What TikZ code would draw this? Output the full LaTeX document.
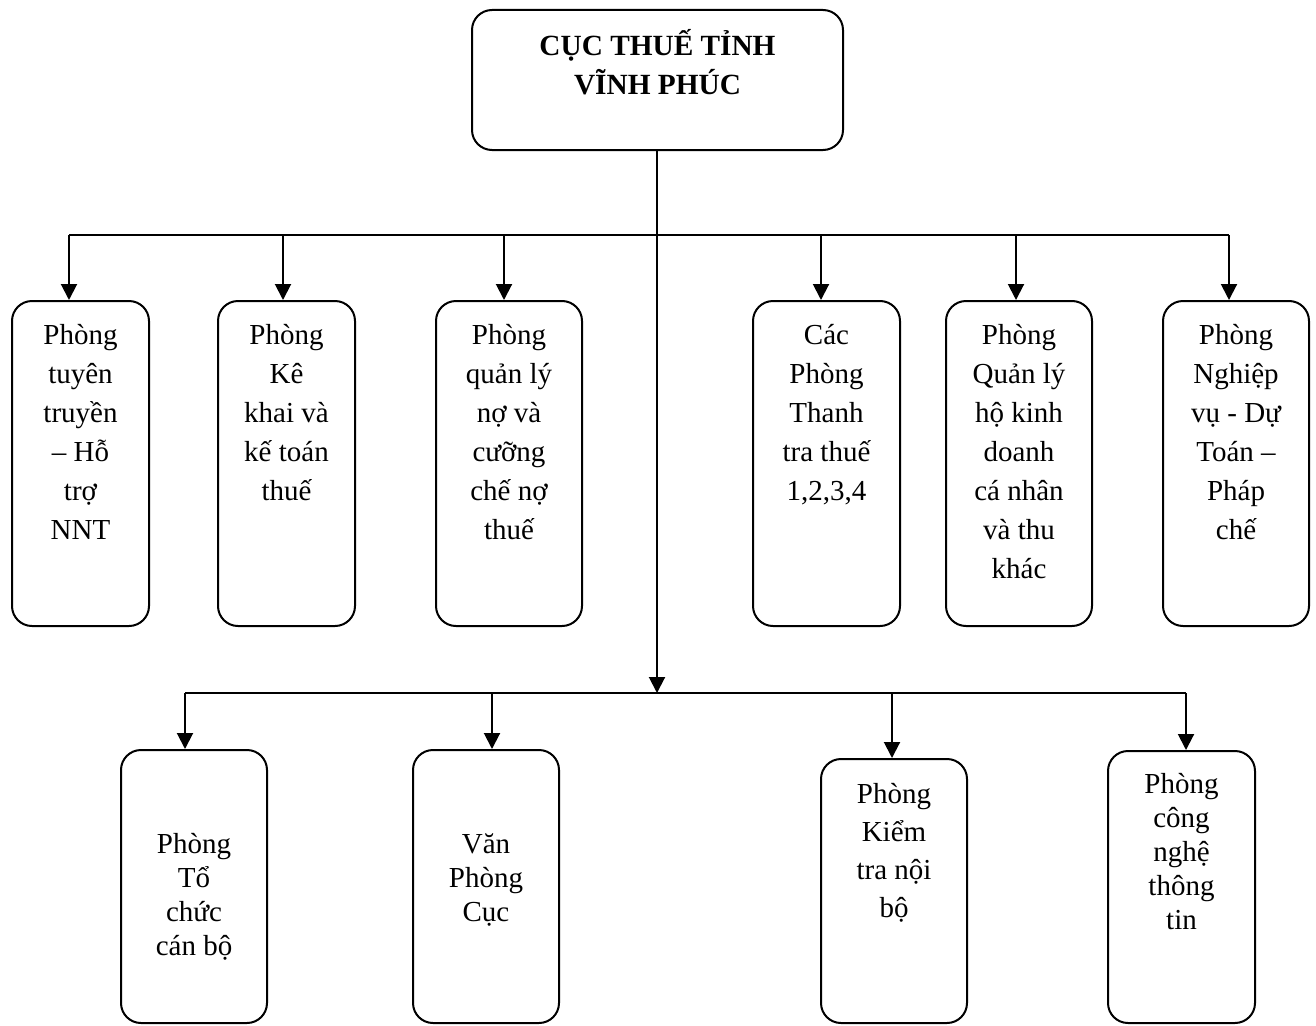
\documentclass[tikz,border=0pt]{standalone}
\usepackage{fontspec}
\setmainfont{Liberation Serif}
\usetikzlibrary{arrows.meta}
\newcommand{\fst}{\rule{0pt}{30pt}}
\begin{document}
\begin{tikzpicture}[x=1pt,y=-1pt,
 box/.style={draw, line width=2pt, rounded corners=20pt, rectangle, inner sep=0pt},
 conn/.style={line width=2pt},
 arr/.style={line width=2pt, -{Triangle[length=16pt 0,width=16pt 0]}},
 txt/.style={align=center, inner sep=0pt, anchor=north, font=\fontsize{29}{39}\selectfont},
 txts/.style={align=center, inner sep=0pt, anchor=north, font=\fontsize{29}{34}\selectfont},
 txtm/.style={align=center, inner sep=0pt, anchor=north, font=\fontsize{29}{38}\selectfont},
]
\useasboundingbox (0,0) rectangle (1316,1025);

% top box
\node[box, minimum width=371pt, minimum height=140pt] (top) at (657.5,80) {};
\node[txt, font=\fontsize{29.3}{39}\selectfont\bfseries] (toptxt) at (657.5,25) {\fst CỤC THUẾ TỈNH\\VĨNH PHÚC};

% first row boxes
\node[box, minimum width=137pt, minimum height=325pt] (b1) at (80.5,463.5) {};
\node[box, minimum width=137pt, minimum height=325pt] (b2) at (286.5,463.5) {};
\node[box, minimum width=146pt, minimum height=325pt] (b3) at (509,463.5) {};
\node[box, minimum width=147pt, minimum height=325pt] (b4) at (826.5,463.5) {};
\node[box, minimum width=146pt, minimum height=325pt] (b5) at (1019,463.5) {};
\node[box, minimum width=146pt, minimum height=325pt] (b6) at (1236,463.5) {};

\node[txt] (t1) at (80.5,314) {\fst Phòng\\tuyên\\truyền\\– Hỗ\\trợ\\NNT};
\node[txt] (t2) at (286.5,314) {\fst Phòng\\Kê\\khai và\\kế toán\\thuế};
\node[txt] (t3) at (509,314) {\fst Phòng\\quản lý\\nợ và\\cưỡng\\chế nợ\\thuế};
\node[txt] (t4) at (826.5,314) {\fst Các\\Phòng\\Thanh\\tra thuế\\1,2,3,4};
\node[txt] (t5) at (1019,314) {\fst Phòng\\Quản lý\\hộ kinh\\doanh\\cá nhân\\và thu\\khác};
\node[txt] (t6) at (1236,314) {\fst Phòng\\Nghiệp\\vụ - Dự\\Toán –\\Pháp\\chế};

% second row boxes
\node[box, minimum width=146pt, minimum height=273pt] (c1) at (194,886.5) {};
\node[box, minimum width=146pt, minimum height=273pt] (c2) at (486,886.5) {};
\node[box, minimum width=146pt, minimum height=264pt] (c3) at (894,891) {};
\node[box, minimum width=147pt, minimum height=272pt] (c4) at (1181.5,887) {};

\node[txts] (u1) at (194,823) {\fst Phòng\\Tổ\\chức\\cán bộ};
\node[txts] (u2) at (486,823) {\fst Văn\\Phòng\\Cục};
\node[txtm] (u3) at (894,773) {\fst Phòng\\Kiểm\\tra nội\\bộ};
\node[txts] (u4) at (1181.5,763) {\fst Phòng\\công\\nghệ\\thông\\tin};

% connector points
\coordinate (h1) at (69,235);
\coordinate (h2) at (283,235);
\coordinate (h3) at (504,235);
\coordinate (h4) at (821,235);
\coordinate (h5) at (1016,235);
\coordinate (h6) at (1229,235);
\coordinate (j) at (657,693);
\coordinate (k1) at (185,693);
\coordinate (k2) at (492,693);
\coordinate (k3) at (892,693);
\coordinate (k4) at (1186,693);

\draw[conn] (h1) -- (h6);
\draw[conn] (k1) -- (k4);
\draw[arr] (top.south -| j) -- (j);
\foreach \h/\b in {h1/b1,h2/b2,h3/b3,h4/b4,h5/b5,h6/b6}
  \draw[arr] (\h) -- (\h |- \b.north);
\foreach \k/\c in {k1/c1,k2/c2,k3/c3,k4/c4}
  \draw[arr] (\k) -- (\k |- \c.north);
\end{tikzpicture}
\end{document}
